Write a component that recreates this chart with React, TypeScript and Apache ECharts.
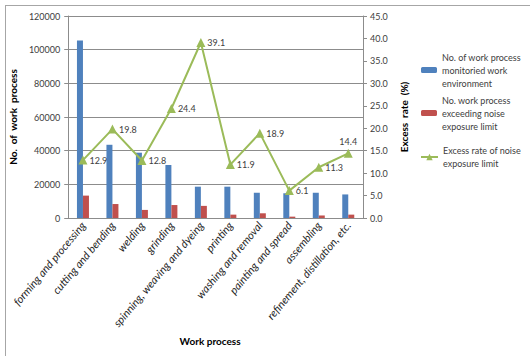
import React, { useEffect, useRef } from "react";
import * as echarts from "echarts";

const categories = [
  "forming and processing",
  "cutting and bending",
  "welding",
  "grinding",
  "spinning, weaving and dyeing",
  "printing",
  "washing and removal",
  "painting and spread",
  "assembling",
  "refinement, distillation, etc.",
];
const monitored = [105500, 43500, 38800, 31500, 18600, 18600, 15000, 14700, 15000, 14000];
const exceeding = [13300, 8300, 4800, 7700, 7200, 2000, 2800, 800, 1500, 2000];
const excessRate = [12.9, 19.8, 12.8, 24.4, 39.1, 11.9, 18.9, 6.1, 11.3, 14.4];

const seriesNames = [
  "No. of work process monitoried work environment",
  "No. work process exceeding noise exposure limit",
  "Excess rate of noise exposure limit",
];
const legendLines: Record<string, string> = {
  [seriesNames[0]]: "No. of work process\nmonitoried work\nenvironment",
  [seriesNames[1]]: "No. work process\nexceeding noise\nexposure limit",
  [seriesNames[2]]: "Excess rate of noise\nexposure limit",
};

const FONT = "Lato";
const BLUE = "#4F81BD";
const RED = "#C0504D";
const GREEN = "#9BBB59";
const GRID = "#8C8C8C";

export default function App() {
  const ref = useRef<HTMLDivElement>(null);
  useEffect(() => {
    if (!ref.current) return;
    document.body.style.margin = "0";
    const chart = echarts.init(ref.current, undefined, { renderer: "svg" });
    const LH = 13;
    const mkLegend = (name: string, iconCenter: number, isLine: boolean) => {
      const n = legendLines[name].split("\n").length;
      const padTop = (n - 1) * LH;
      const boxH = padTop + n * LH;
      return {
        show: true,
        data: [name],
        left: isLine ? 420 : 421,
        top: iconCenter - boxH / 2,
        width: 108,
        padding: 0,
        itemWidth: isLine ? 17 : 16,
        itemHeight: isLine ? 8 : 6,
        formatter: (nm: string) => legendLines[nm],
        selectedMode: false,
        textStyle: {
          fontFamily: FONT,
          fontSize: 9,
          color: "#404040",
          lineHeight: LH,
          overflow: "none",
          padding: [padTop, 0, 0, 0],
        },
      };
    };
    chart.setOption({
      animation: false,
      textStyle: { fontFamily: FONT },
      legend: [
        mkLegend(seriesNames[0], 70, false),
        mkLegend(seriesNames[1], 113, false),
        mkLegend(seriesNames[2], 157, true),
      ],
      graphic: [
        { type: "line", shape: { x1: 5, y1: 5.5, x2: 530, y2: 5.5 }, style: { stroke: "#A6A6A6", lineWidth: 1 } },
        { type: "line", shape: { x1: 5.5, y1: 5, x2: 5.5, y2: 356 }, style: { stroke: "#A6A6A6", lineWidth: 1 } },
      ],
      grid: { left: 62, right: 167, top: 16, bottom: 138 },
      xAxis: {
        type: "category",
        data: categories,
        axisLine: { lineStyle: { color: GRID } },
        axisTick: { show: false },
        axisLabel: {
          rotate: 50,
          interval: 0,
          fontStyle: "italic",
          fontSize: 11,
          color: "#262626",
          margin: 5,
          fontFamily: FONT,
        },
        name: "Work process",
        nameLocation: "middle",
        nameGap: 113,
        nameTextStyle: { fontWeight: "bold", fontSize: 10, color: "#000", padding: [0, 11, 0, 0], fontFamily: FONT },
      },
      yAxis: [
        {
          type: "value",
          min: 0,
          max: 120000,
          interval: 20000,
          axisLine: { show: true, lineStyle: { color: GRID } },
          axisTick: { show: true, length: 4, lineStyle: { color: GRID } },
          splitLine: { lineStyle: { color: GRID, width: 1 } },
          axisLabel: { fontSize: 9, color: "#404040", margin: 8, fontFamily: FONT, formatter: (v: number) => String(v) },
          name: "No.  of  work  process",
          nameLocation: "middle",
          nameRotate: 90,
          nameGap: 34,
          nameTextStyle: { fontWeight: "bold", fontSize: 10, color: "#000", fontFamily: FONT },
        },
        {
          type: "value",
          min: 0,
          max: 45,
          interval: 5,
          position: "right",
          axisLine: { show: true, lineStyle: { color: GRID } },
          axisTick: { show: true, length: 4, lineStyle: { color: GRID } },
          splitLine: { show: false },
          axisLabel: {
            fontSize: 9,
            color: "#404040",
            margin: 7,
            fontFamily: FONT,
            formatter: (v: number) => v.toFixed(1),
          },
          name: "Excess  rate  (%)",
          nameLocation: "middle",
          nameRotate: 90,
          nameGap: 24,
          nameTextStyle: { fontWeight: "bold", fontSize: 10, color: "#000", fontFamily: FONT },
        },
      ],
      series: [
        {
          name: seriesNames[0],
          type: "bar",
          data: monitored,
          barWidth: 6,
          barGap: "0%",
          itemStyle: { color: BLUE },
        },
        {
          name: seriesNames[1],
          type: "bar",
          data: exceeding,
          barWidth: 6,
          barGap: "0%",
          itemStyle: { color: RED },
        },
        {
          name: seriesNames[2],
          type: "line",
          yAxisIndex: 1,
          data: excessRate.map((v, i) =>
            i === excessRate.length - 1 ? { value: v, label: { position: "top", distance: 3 } } : v
          ),
          symbol: "triangle",
          symbolSize: 9,
          lineStyle: { color: GREEN, width: 2 },
          itemStyle: { color: GREEN },
          label: {
            show: true,
            position: "right",
            distance: 2,
            fontSize: 9,
            color: "#404040",
            fontFamily: FONT,
            formatter: (p: any) => (p.value as number).toFixed(1),
          },
        },
      ],
    });
    return () => chart.dispose();
  }, []);
  return <div ref={ref} style={{ width: 530, height: 356 }} />;
}
